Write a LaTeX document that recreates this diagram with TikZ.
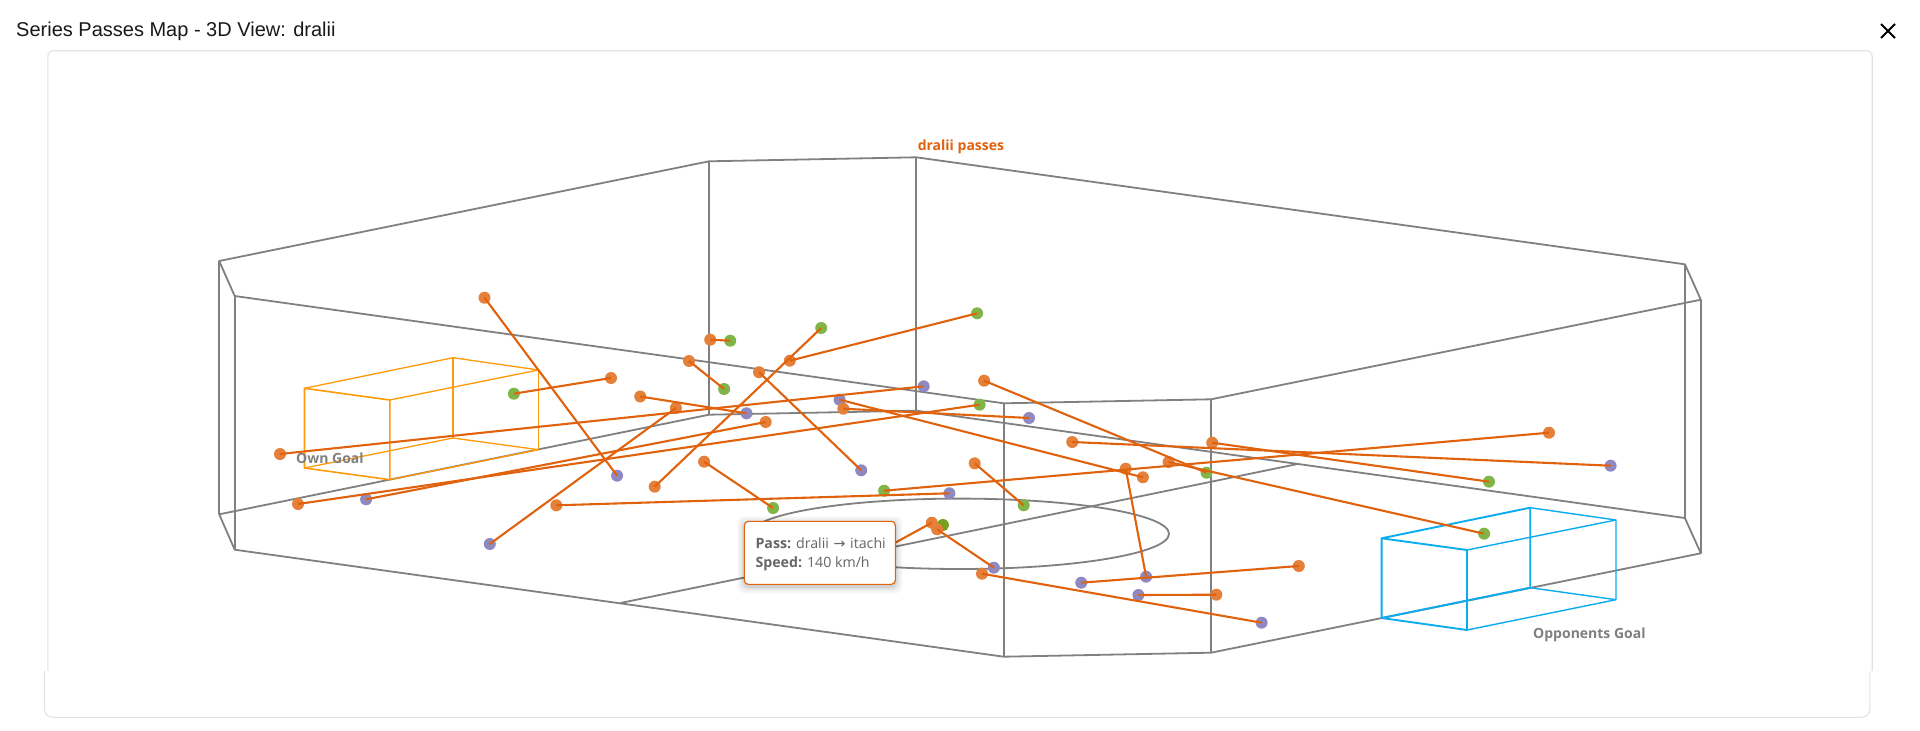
\documentclass[tikz,border=0pt]{standalone}
\usepackage{fontspec}
\setmainfont{Liberation Sans}
\newfontfamily\lblfont{Open Sans}
\newfontfamily\arrowfont{DejaVu Sans}
\definecolor{cardc}{HTML}{E2E2E2}
\definecolor{framec}{HTML}{808080}
\definecolor{ownc}{HTML}{FF9A0A}
\definecolor{oppc}{HTML}{0AACEE}
\definecolor{passc}{HTML}{E0620D}
\definecolor{srcc}{HTML}{E5803A}
\definecolor{purc}{HTML}{8F89C2}
\definecolor{grnc}{HTML}{80B548}
\definecolor{dgrnc}{HTML}{7A9E1F}
\definecolor{tipt}{HTML}{666666}
\tikzset{
  x=1pt,y=-1pt,
  card/.style={draw=cardc,line width=1.1pt},
  frameln/.style={draw=framec,line width=1.8pt,line join=round},
  owngoal/.style={draw=ownc,line width=1.6pt,line join=round},
  owngoalfar/.style={draw=ownc,line width=1.3pt,line join=round},
  oppgoal/.style={draw=oppc,line width=1.9pt,line join=round},
  oppgoalfar/.style={draw=oppc,line width=1.4pt,line join=round},
  pass/.style={draw=passc,line width=2.1pt},
  dotn/.style={circle,inner sep=0pt,minimum size=12pt,draw=none},
  src/.style={dotn,fill=srcc},
  pur/.style={dotn,fill=purc},
  grn/.style={dotn,fill=grnc},
  dgrn/.style={dotn,fill=dgrnc},
  axlabel/.style={font=\lblfont\bfseries\fontsize{14}{16}\selectfont,text=framec,inner sep=0pt},
  tipbox/.style={draw=passc,fill=white,line width=1.1pt,rounded corners=4pt},
  tiptext/.style={font=\lblfont\fontsize{14.2}{17}\selectfont,text=tipt,inner sep=0pt,anchor=west},
}
\begin{document}
\begin{tikzpicture}
\useasboundingbox (0,0) rectangle (1920,731);
\fill[white] (0,0) rectangle (1920,731);
% window
\node[font=\fontsize{20}{24}\selectfont,anchor=west,inner sep=0pt,text=black!90] (title) at (16,31) {Series Passes Map - 3D View: dralii};
\coordinate (xa) at (1881,24); \coordinate (xb) at (1895,38);
\coordinate (xc) at (1895,24); \coordinate (xd) at (1881,38);
\draw[black,line width=1.8pt] (xa) -- (xb) (xc) -- (xd);
\draw[card,rounded corners=6pt] (47.8,671) -- (47.8,50.7) -- (1872.2,50.7) -- (1872.2,671);
\draw[card,rounded corners=8pt] (44.5,671) -- (44.5,717.3) -- (1869.8,717.3) -- (1869.8,671);
% field frame
\foreach \n/\x/\yt/\yb in {a/219.2/261/514.3,b/709/161.3/414.7,c/916.3/157.3/410.7,d/1684.9/264.3/518,e/1700.8/299.7/553.3,f/1211/399.3/652.7,g/1003.7/403.3/656.7,h/234.7/296/549.7}{
  \coordinate (\n t) at (\x,\yt);
  \coordinate (\n b) at (\x,\yb);
  \draw[frameln] (\n t) -- (\n b);
}
\draw[frameln] (at) -- (bt) -- (ct) -- (dt) -- (et) -- (ft) -- (gt) -- (ht) -- cycle;
\draw[frameln] (ab) -- (bb) -- (cb) -- (db) -- (eb) -- (fb) -- (gb) -- (hb) -- cycle;
\coordinate (mida) at (620.4,603); \coordinate (midb) at (1299,463.7);
\draw[frameln] (mida) -- (midb);
\coordinate (circ) at (960,533.8);
\draw[frameln] (circ) ellipse [x radius=209,y radius=35.2];
% own goal
\coordinate (o1) at (304.5,388.3); \coordinate (o2) at (389.8,400); \coordinate (o3) at (453,357.7); \coordinate (o4) at (538.4,370);
\coordinate (o5) at (304.5,468); \coordinate (o6) at (389.8,479.7); \coordinate (o7) at (453,438); \coordinate (o8) at (538.4,449.7);
\draw[owngoalfar] (o1) -- (o3) (o3) -- (o4) (o4) -- (o2) (o5) -- (o7) (o6) -- (o8) -- (o7);
\draw[owngoal] (o1) -- (o2) -- (o6) -- (o5) -- cycle;
\draw[owngoal] (o3) -- (o7) (o4) -- (o8);
% opponents goal
\coordinate (p1) at (1381.6,538.3); \coordinate (p2) at (1467,550); \coordinate (p3) at (1530.2,507.7); \coordinate (p4) at (1616,520);
\coordinate (p5) at (1381.6,618); \coordinate (p6) at (1467,630); \coordinate (p7) at (1530.2,587.7); \coordinate (p8) at (1616,599.7);
\draw[oppgoalfar] (p3) -- (p4) -- (p2) (p7) -- (p8) -- (p6) (p4) -- (p8);
\draw[oppgoal] (p1) -- (p2) -- (p6) -- (p5) -- cycle;
\draw[oppgoal] (p1) -- (p3) -- (p7) -- (p5);
% dots: name/style/x/y
\foreach \n/\s/\x/\y in {
 a1/src/484.5/297.7, b1/pur/617.1/475.7,
 a2/src/710.2/339.7, b2/grn/730.2/340.7,
 a3/src/789.8/360.7, b3/grn/977.1/313.3,
 a4/src/654.7/486.7, b4/grn/821.2/328,
 a5/src/689/361, b5/grn/724.1/389,
 a6/src/759/372.2, b6/pur/861.2/470.3,
 a7/src/611/378, b7/grn/513.9/393.7,
 a8/src/640.2/396.5, b8/pur/746.5/413.3,
 a9/src/280/454, b9/pur/923.7/386.3,
 a10/src/298/504, b10/grn/979.6/404.7,
 a11/src/765.7/422, b11/pur/366.1/499.3,
 a12/src/675.9/408, b12/pur/489.8/544,
 a13/src/1142.9/477.3, b13/pur/839.6/399.7,
 a14/src/843.3/408.7, b14/pur/1029/418,
 a15/src/984.1/380.7, b15/grn/1206.5/472.7,
 a16/src/1168.6/462, b16/grn/1484.1/533.7,
 a17/src/1072.2/442, b17/pur/1610.6/465.7,
 a18/src/1212.2/442.7, b18/grn/1489/481.7,
 a19/src/556.3/505.3, b19/pur/949.4/493.3,
 a20/src/1549/432.7, b20/grn/884.1/490.7,
 a21/src/704.1/461.7, b21/grn/773.1/508,
 a22/src/974.7/463.3, b22/grn/1023.7/505.3,
 a23/src/1125.7/468.7, b23/pur/1146.1/576.7,
 a24/src/1298.8/566, b24/pur/1081.2/582.7,
 a25/src/1216.3/594.7, b25/pur/1138.4/595,
 a26/src/982/573.7, b26/pur/1261.6/622.7,
 b28/dgrn/942.9/525,
 a27/src/937.1/529.3, b27/pur/993.9/567.7,
 a28/src/931.8/522.7}{
  \node[\s] (\n) at (\x,\y) {};
}
\coordinate (hid) at (860,562);
\foreach \i in {1,...,27}{
  \draw[pass] (a\i.center) -- (b\i.center);
}
\draw[pass] (a28.center) -- (hid);
% labels
\node[font=\lblfont\bfseries\fontsize{14}{16}\selectfont,text=passc,anchor=west,inner sep=0pt] (serieslbl) at (917.6,147) {dralii passes};
\node[axlabel,anchor=west] (ownlbl) at (296,458.5) {Own Goal};
\node[axlabel,anchor=west] (opplbl) at (1533,635) {Opponents Goal};
% tooltip
\foreach \g/\op in {7/0.03,5/0.04,3/0.05,1.5/0.06}{
  \fill[black,opacity=\op,rounded corners=7pt] (744.3-\g,523.3-\g) rectangle (895.3+\g,586.3+\g);
}
\draw[tipbox] (744.3,521.3) rectangle (895.3,584.3);
\node[tiptext] (tip1) at (755.3,543.3) {\textbf{Pass:} dralii\hspace{1pt} {\arrowfont →}\hspace{1pt} itachi};
\node[tiptext] (tip2) at (755.3,564) {\textbf{Speed:} 140 km/h};
\end{tikzpicture}
\end{document}
